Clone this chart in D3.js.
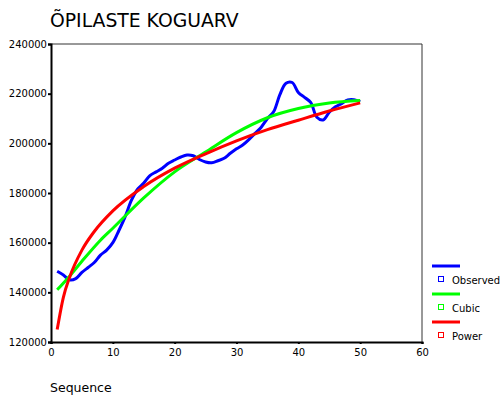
<!DOCTYPE html>
<html>
<head>
<meta charset="utf-8">
<script src="https://cdn.jsdelivr.net/npm/d3@7"></script>
<style>
  body { margin: 0; background: #fff; }
  text { font-family: "DejaVu Sans", Verdana, sans-serif; fill: #000; }
</style>
</head>
<body>
<div id="chart"></div>
<script>
// observed series, t = 1..50
var observed = [148500, 147000, 145000, 145500, 148000, 150000, 152000, 155000, 157000, 160000,
  165000, 170500, 177000, 181500, 184000, 187000, 188500, 190000, 192000, 193300,
  194500, 195300, 195000, 193500, 192500, 192200, 193000, 194000, 196000, 197800,
  199300, 201500, 204000, 206500, 210000, 212700, 219500, 224200, 224500, 220500,
  218500, 216500, 210500, 209400, 212500, 214700, 216000, 217500, 217600, 216800]

// fitted curves
var cubicT = [1, 3, 5, 8, 10, 15, 20, 25, 30, 35, 40, 45, 50]
var cubic = [141000, 146500, 152500, 161000, 165800, 178000, 188500, 196500, 204300, 210300, 214000, 216200, 217200]

var powerT = [1, 2, 3, 5, 7, 10, 15, 20, 25, 30, 35, 40, 45, 50]
var power = [125000, 138000, 146000, 157000, 164500, 172800, 182600, 190000, 195800, 201000, 205500, 209300, 213000, 216300]

var xTicks = [0, 10, 20, 30, 40, 50, 60]
var yTicks = [120000, 140000, 160000, 180000, 200000, 220000, 240000]

var legendItems = [
  {name: "Observed", color: "#0000ff"},
  {name: "Cubic", color: "#00ff00"},
  {name: "Power", color: "#ff0000"}
]

var width = 501, height = 400
var margin = {top: 44, right: 79, bottom: 58, left: 51}

var svg = d3.select("#chart").append("svg")
  .attr("width", width)
  .attr("height", height)

var x = d3.scaleLinear().domain([0, 60]).range([margin.left, width - margin.right])
var y = d3.scaleLinear().domain([120000, 240000]).range([height - margin.bottom, margin.top])

// frame: top and right thin lines
svg.append("line")
  .attr("x1", x(0)).attr("x2", x(60))
  .attr("y1", y(240000)).attr("y2", y(240000))
  .attr("stroke", "#333").attr("stroke-width", 1)
svg.append("line")
  .attr("x1", x(60)).attr("x2", x(60))
  .attr("y1", y(240000)).attr("y2", y(120000))
  .attr("stroke", "#333").attr("stroke-width", 1)

var yAxis = svg.append("g")
  .attr("transform", "translate(" + x(0) + ",0)")
  .call(d3.axisLeft(y).tickValues(yTicks).tickSize(3).tickPadding(1).tickFormat(d3.format("d")))
yAxis.select(".domain").attr("stroke", "#000").attr("stroke-width", 2)
yAxis.selectAll(".tick line").attr("stroke", "#000").attr("stroke-width", 2)
yAxis.selectAll("text").style("font-size", "10px").attr("fill", "#000")

var xAxis = svg.append("g")
  .attr("transform", "translate(0," + y(120000) + ")")
  .call(d3.axisBottom(x).tickValues(xTicks).tickSize(2).tickPadding(5))
xAxis.select(".domain").attr("stroke", "#000").attr("stroke-width", 2)
xAxis.selectAll(".tick line").attr("stroke", "#000").attr("stroke-width", 2)
xAxis.selectAll("text").style("font-size", "10px").attr("fill", "#000")

var lineObs = d3.line()
  .x(function(d, i) { return x(i + 1) })
  .y(function(d) { return y(d) })
  .curve(d3.curveCatmullRom)

var lineFit = function(ts) {
  return d3.line()
    .x(function(d, i) { return x(ts[i]) })
    .y(function(d) { return y(d) })
    .curve(d3.curveMonotoneX)
}

svg.append("path")
  .attr("d", lineObs(observed))
  .attr("fill", "none").attr("stroke", "#0000ff").attr("stroke-width", 3)
svg.append("path")
  .attr("d", lineFit(cubicT)(cubic))
  .attr("fill", "none").attr("stroke", "#00ff00").attr("stroke-width", 3)
svg.append("path")
  .attr("d", lineFit(powerT)(power))
  .attr("fill", "none").attr("stroke", "#ff0000").attr("stroke-width", 3)

// title and axis label
svg.append("text")
  .attr("x", 50).attr("y", 27)
  .style("font-size", "18.8px")
  .text("ÕPILASTE KOGUARV")

svg.append("text")
  .attr("x", 50).attr("y", 392)
  .style("font-size", "12.5px")
  .text("Sequence")

// legend
var leg = svg.selectAll(".leg")
  .data(legendItems)
  .enter().append("g")
  .attr("transform", function(d, i) { return "translate(432," + (266 + i * 28) + ")" })

leg.append("line")
  .attr("x1", 0).attr("x2", 28)
  .attr("stroke", function(d) { return d.color })
  .attr("stroke-width", 3)
leg.append("rect")
  .attr("x", 6.5).attr("y", 10.5)
  .attr("width", 5).attr("height", 5)
  .attr("fill", "#fff")
  .attr("stroke", function(d) { return d.color })
leg.append("text")
  .attr("x", 20).attr("y", 18)
  .style("font-size", "10px")
  .text(function(d) { return d.name })
</script>
</body>
</html>
